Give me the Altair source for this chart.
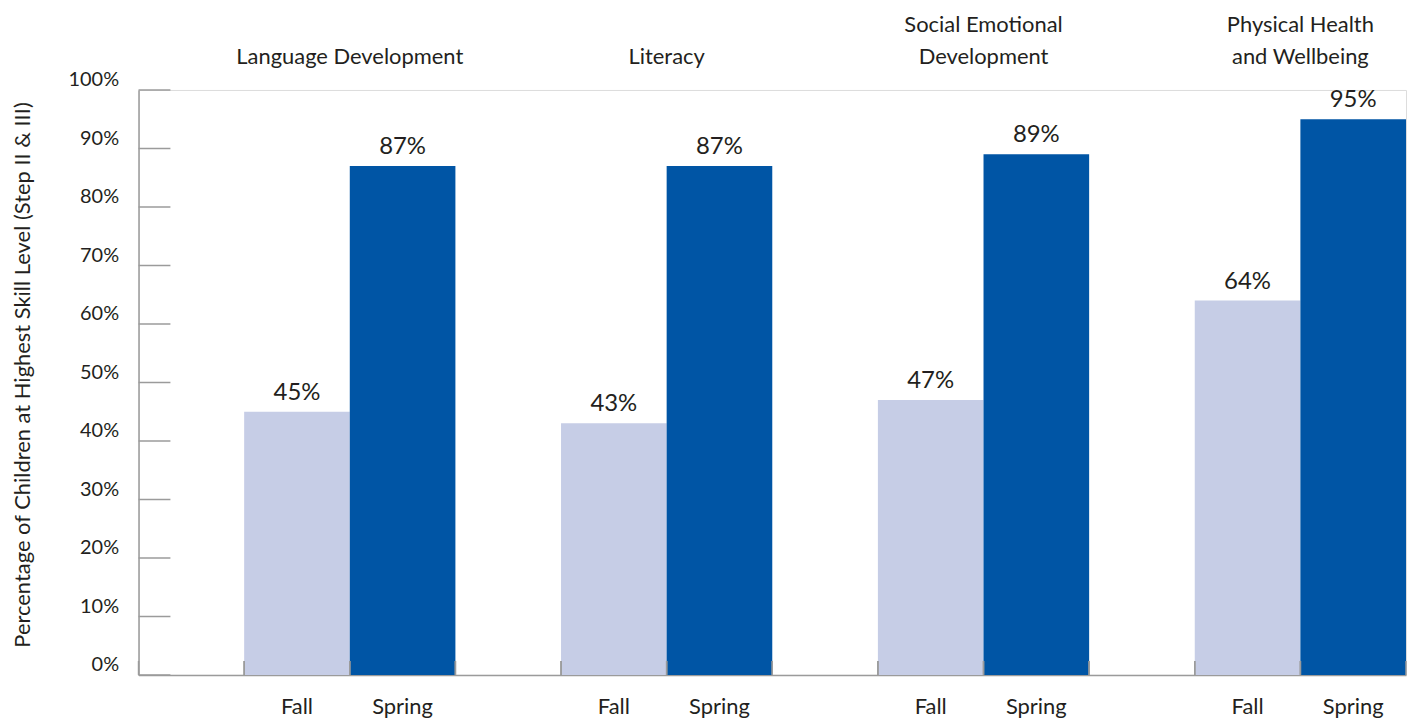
import altair as alt
import pandas as pd

# ---- data ----
group_ids = ["g0", "g1", "g2", "g3"]
title_line1 = ["", "", "Social Emotional", "Physical Health"]
title_line2 = ["Language Development", "Literacy", "Development", "and Wellbeing"]
seasons = ["Fall", "Spring"]
fall_values = [45, 43, 47, 64]
spring_values = [87, 87, 89, 95]
y_ticks = [0, 10, 20, 30, 40, 50, 60, 70, 80, 90, 100]
y_title = "Percentage of Children at Highest Skill Level (Step II & III)"

FALL_COLOR = "#C6CDE6"
SPRING_COLOR = "#0055A5"
AXIS_GRAY = "#9B9B9B"
TEXT = "#231F20"
FONT = "Lato"

# slots: a gap slot, then Fall and Spring for each group
slots = []
for gid in group_ids:
    slots += [f"{gid}|gap", f"{gid}|Fall", f"{gid}|Spring"]

rows = []
for gid, f, s in zip(group_ids, fall_values, spring_values):
    rows.append({"slot": f"{gid}|Fall", "season": "Fall", "value": f, "label": f"{f}%"})
    rows.append({"slot": f"{gid}|Spring", "season": "Spring", "value": s, "label": f"{s}%"})
bars_df = pd.DataFrame(rows)

titles_df = pd.DataFrame({
    "slot": [f"{g}|Spring" for g in group_ids],
    "line1": title_line1,
    "line2": title_line2,
})
ticks_df = pd.DataFrame({"v": y_ticks})
slots_df = pd.DataFrame({"slot": slots})

W, H = 1272, 587

x_scale = alt.Scale(domain=slots, paddingInner=0, paddingOuter=0)
y_scale = alt.Scale(domain=[0, 100], nice=False)

x_axis = alt.Axis(
    title=None,
    labelExpr="indexof(datum.label, 'gap') >= 0 ? '' : split(datum.label, '|')[1]",
    labelAngle=0,
    labelFontSize=22,
    labelFont=FONT,
    labelColor=TEXT,
    labelBaseline="alphabetic",
    labelPadding=39,
    tickSize=0,
    ticks=False,
    domainColor=AXIS_GRAY,
    domainWidth=1.5,
    grid=False,
)
y_axis = alt.Axis(
    title=y_title,
    values=y_ticks,
    labelExpr="datum.value + '%'",
    labelFontSize=20,
    labelFont=FONT,
    labelColor=TEXT,
    labelBaseline="bottom",
    labelPadding=20,
    tickSize=0,
    ticks=False,
    domainColor=AXIS_GRAY,
    domainWidth=1.5,
    grid=False,
    titleFont=FONT,
    titleFontSize=22,
    titleFontWeight="normal",
    titleColor=TEXT,
    titleX=-116,
    titleY=H / 2 - 8,
    titleBaseline="middle",
    titleAlign="center",
)

bars = alt.Chart(bars_df).mark_bar().encode(
    x=alt.X("slot:N", scale=x_scale, axis=x_axis, sort=slots),
    y=alt.Y("value:Q", scale=y_scale, axis=y_axis),
    color=alt.Color("season:N", scale=alt.Scale(domain=seasons, range=[FALL_COLOR, SPRING_COLOR]), legend=None),
)

labels = alt.Chart(bars_df).mark_text(
    baseline="alphabetic", dy=-12, fontSize=24, font=FONT, color=TEXT
).encode(
    x=alt.X("slot:N", sort=slots),
    y=alt.Y("value:Q"),
    text="label:N",
)

title_top = alt.Chart(titles_df).mark_text(
    baseline="alphabetic", align="center", fontSize=22, font=FONT, color=TEXT
).encode(
    x=alt.X("slot:N", sort=slots, bandPosition=0),
    y=alt.value(-58),
    text="line1:N",
)
title_bottom = alt.Chart(titles_df).mark_text(
    baseline="alphabetic", align="center", fontSize=22, font=FONT, color=TEXT
).encode(
    x=alt.X("slot:N", sort=slots, bandPosition=0),
    y=alt.value(-26),
    text="line2:N",
)

y_tick_rules = alt.Chart(ticks_df).mark_rule(color=AXIS_GRAY, strokeWidth=1.5).encode(
    y=alt.Y("v:Q"),
    x=alt.value(0),
    x2=alt.value(32),
)

x_tick_start = alt.Chart(slots_df).mark_rule(color=AXIS_GRAY, strokeWidth=1.5).encode(
    x=alt.X("slot:N", sort=slots, bandPosition=0),
    y=alt.value(H),
    y2=alt.value(H - 14),
)
x_tick_end = alt.Chart(slots_df).mark_rule(color=AXIS_GRAY, strokeWidth=1.5).encode(
    x=alt.X("slot:N", sort=slots, bandPosition=1),
    y=alt.value(H),
    y2=alt.value(H - 14),
)

chart = alt.layer(bars, x_tick_start, x_tick_end, y_tick_rules, labels, title_top, title_bottom).properties(
    width=W,
    height=H,
    autosize=alt.AutoSizeParams(type="none"),
    padding={"left": 131, "top": 81, "right": 3, "bottom": 42},
).configure_view(stroke=None).configure(background="white")

chart.save("out.html", embed_options={"renderer": "svg", "actions": False})
